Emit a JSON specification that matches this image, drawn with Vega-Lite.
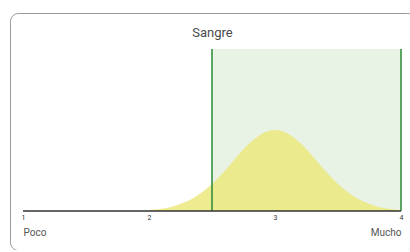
{
  "$schema": "https://vega.github.io/schema/vega-lite/v6.json",
  "autosize": {"type": "none"},
  "padding": {"left": 10, "top": 13, "right": 0, "bottom": 0},
  "width": 405,
  "height": 237,
  "title": {"text": "Sangre", "anchor": "middle", "offset": -24, "dy": 13, "baseline": "alphabetic", "fontSize": 13, "fontWeight": "normal", "font": "Roboto", "color": "#4a4a4a"},
  "datasets": {
    "curva": [
      {"x": 2.0, "d": 0.006}, {"x": 2.1, "d": 0.014}, {"x": 2.2, "d": 0.030}, {"x": 2.3, "d": 0.058},
      {"x": 2.4, "d": 0.103}, {"x": 2.5, "d": 0.166}, {"x": 2.6, "d": 0.247}, {"x": 2.7, "d": 0.337},
      {"x": 2.8, "d": 0.419}, {"x": 2.9, "d": 0.478}, {"x": 3.0, "d": 0.500}, {"x": 3.1, "d": 0.478},
      {"x": 3.2, "d": 0.419}, {"x": 3.3, "d": 0.337}, {"x": 3.4, "d": 0.247}, {"x": 3.5, "d": 0.166},
      {"x": 3.6, "d": 0.103}, {"x": 3.7, "d": 0.058}, {"x": 3.8, "d": 0.030}, {"x": 3.9, "d": 0.014},
      {"x": 4.0, "d": 0.006}
    ],
    "zona": [{"desde": 2.5, "hasta": 4}],
    "bordes": [{"x": 2.5}, {"x": 4}]
  },
  "layer": [
    {
      "data": {"name": "zona"},
      "mark": {"type": "rect", "color": "#e9f3e5"},
      "encoding": {
        "x": {"field": "desde", "type": "quantitative", "scale": {"domain": [0.8968, 4.1111], "nice": false, "zero": false},
              "axis": {"orient": "bottom", "offset": -39, "values": [1, 2, 3, 4], "domain": false, "ticks": false, "grid": false, "title": null, "labelFontSize": 7, "labelPadding": 2, "labelColor": "#333", "labelFont": "Roboto", "labelFlush": false}},
        "x2": {"field": "hasta"},
        "y": {"datum": 0, "type": "quantitative", "scale": {"domain": [-0.2407, 1.2222], "nice": false, "zero": false}, "axis": null},
        "y2": {"datum": 1}
      }
    },
    {
      "data": {"name": "curva"},
      "mark": {"type": "area", "color": "#ebe77c", "fillOpacity": 0.85, "interpolate": "monotone"},
      "encoding": {
        "x": {"field": "x", "type": "quantitative", "axis": null},
        "y": {"field": "d", "type": "quantitative", "axis": null},
        "y2": {"datum": 0}
      }
    },
    {
      "data": {"name": "bordes"},
      "mark": {"type": "rule", "color": "#2a8a36", "strokeWidth": 1.5},
      "encoding": {
        "x": {"field": "x", "type": "quantitative", "axis": null},
        "y": {"datum": 0, "type": "quantitative", "axis": null},
        "y2": {"datum": 1}
      }
    },
    {
      "data": {"values": [{"a": 1, "b": 4}]},
      "mark": {"type": "rule", "color": "#333333", "strokeWidth": 1.5},
      "encoding": {
        "x": {"field": "a", "type": "quantitative",
              "axis": {"orient": "bottom", "offset": -39, "values": [1, 4], "domain": false, "ticks": false, "grid": false, "title": null, "labelFontSize": 10, "labelPadding": 16, "labelColor": "#555", "labelFont": "Roboto", "labelFlush": false,
                       "labelExpr": "datum.value == 1 ? 'Poco' : 'Mucho'",
                       "labelAlign": {"expr": "datum.value == 1 ? 'left' : 'right'"}}},
        "x2": {"field": "b"},
        "y": {"datum": 0, "type": "quantitative", "axis": null}
      }
    }
  ],
  "resolve": {"axis": {"x": "independent"}},
  "config": {
    "view": {"stroke": "#9a9a9a", "strokeWidth": 1, "cornerRadius": 8}
  }
}
